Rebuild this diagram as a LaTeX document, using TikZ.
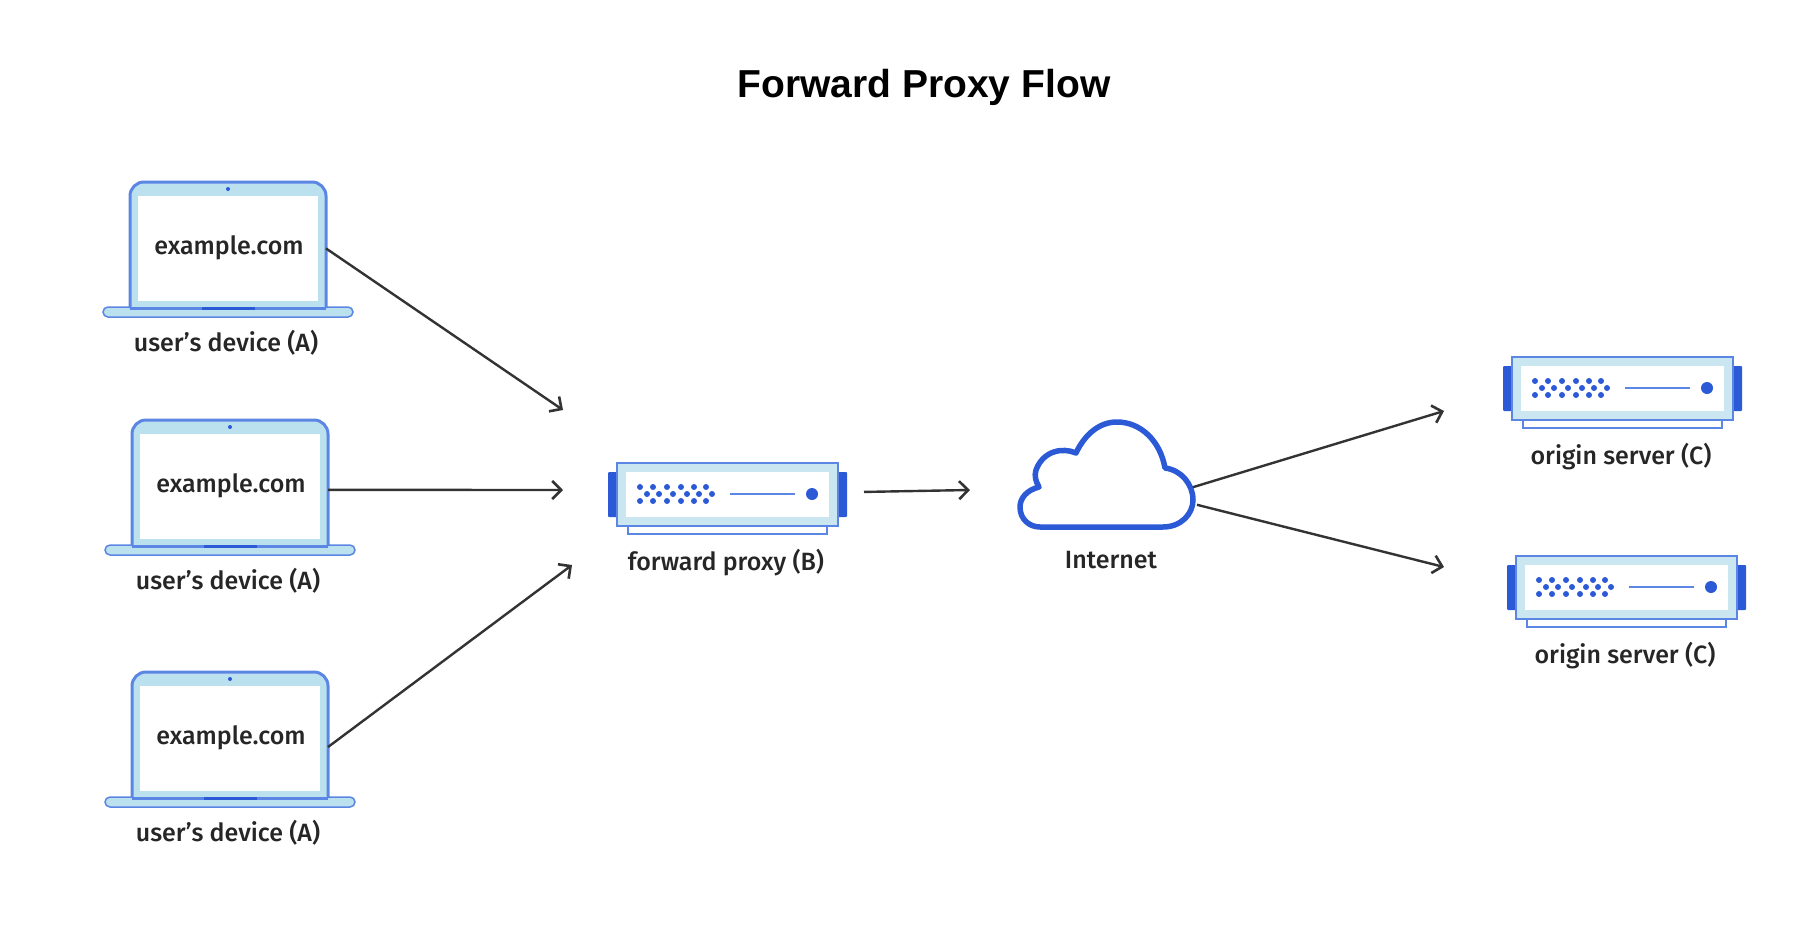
\documentclass[tikz,border=0pt]{standalone}
\usepackage{fontspec}
\setmainfont{Liberation Sans}
\newfontfamily\labfont{Fira Sans Medium}
\usetikzlibrary{arrows.meta,calc}
\definecolor{bl}{HTML}{2C5AD6}
\definecolor{edgebl}{HTML}{5C86E4}
\definecolor{lite}{HTML}{BBE0EE}
\definecolor{inkc}{HTML}{333333}
\tikzset{
  x=1pt,y=-1pt,
  conn/.style={draw=inkc,line width=2.4pt,-{Straight Barb[length=9pt,width=18pt,line width=2.6pt]}},
  lab/.style={font=\labfont\fontsize{25}{28}\selectfont,text=black!85,inner sep=0pt},
  ghost/.style={inner sep=0pt,outer sep=0pt,minimum width=#1},
}
\newcommand{\laptop}[3]{%
\begin{scope}[shift={(#2,#3)}]
  \fill[lite,draw=edgebl,line width=1.5pt,rounded corners=5pt] (103,307) rectangle (353,317);
  \draw[draw=edgebl,line width=3pt,fill=lite,rounded corners=14pt] (130,308) -- (130,182) -- (326,182) -- (326,308);
  \draw[edgebl,line width=3pt] (130,308) -- (326,308);
  \fill[white] (138,196) rectangle (318,301);
  \fill[bl] (202,307) rectangle (255,310);
  \fill[bl] (228,189) circle (2pt);
  \node[ghost=196pt,minimum height=126pt] (#1) at (228,245) {};
  \node[lab] (#1text) at (229,247.5) {example.com};
  \node[lab] (#1label) at (226,343) {user’s device (A)};
\end{scope}}
\newcommand{\serverbox}[4]{%
\begin{scope}[shift={(#2,#3)}]
  \fill[bl,rounded corners=1pt] (608,471) rectangle (620,516);
  \fill[bl,rounded corners=1pt] (835,471) rectangle (847,516);
  \draw[edgebl,line width=2pt,fill=white] (628,525) rectangle (827,533);
  \draw[edgebl,line width=2.5pt,fill=lite!80!white] (617,462) rectangle (838,525);
  \fill[white] (626,471) rectangle (829,516);
  \foreach \d in {640,653,667,681,694,706} {\fill[bl] (\d,486) circle (3pt); \fill[bl] (\d,500) circle (3pt);}
  \foreach \d in {647,659,673,687,699,712} {\fill[bl] (\d,493) circle (3pt);}
  \draw[edgebl,line width=2.5pt] (730,493) -- (795,493);
  \fill[bl] (812,493) circle (6pt);
  \node[ghost=239pt,minimum height=71pt] (#1) at (727.5,497.5) {};
  \node[lab] (#1label) at (726,562) {#4};
\end{scope}}
\begin{document}
\begin{tikzpicture}
\useasboundingbox (0,0) rectangle (1816,940);
\fill[white] (0,0) rectangle (1816,940);
\node[font=\bfseries\fontsize{39}{44}\selectfont,inner sep=0pt] (title) at (924,87) {Forward Proxy Flow};
\laptop{lapa}{0}{0}
\laptop{lapb}{2}{238}
\laptop{lapc}{2}{490}
\serverbox{proxy}{0}{1}{forward proxy (B)}
\serverbox{srva}{895}{-105}{origin server (C)}
\serverbox{srvb}{899}{94}{origin server (C)}
% cloud
\draw[bl,line width=5.5pt,line join=round,fill=white]
  (1040,527) -- (1163,527)
  .. controls (1181,527) and (1193,514) .. (1193,500)
  .. controls (1193,484) and (1181,470) .. (1165,468)
  .. controls (1160,440) and (1140,422) .. (1117,422)
  .. controls (1098,422) and (1084,436) .. (1076,453)
  .. controls (1062,447) and (1043,451) .. (1036,470)
  .. controls (1034,476) and (1036,482) .. (1039,487)
  .. controls (1027,490) and (1020,498) .. (1020,507)
  .. controls (1020,519) and (1029,527) .. (1040,527) -- cycle;
\node[ghost=173pt,minimum height=105pt] (cloud) at (1106.5,475) {};
\node[lab] (cloudlabel) at (1111,560) {Internet};
% free ends
\coordinate (ina) at (563,410);
\coordinate (inb) at (563,490);
\coordinate (inc) at (572,565);
\coordinate (cloudin) at (970,490);
\coordinate (outa) at (1444,411);
\coordinate (outb) at (1444,567);
% connectors
\draw[conn] (lapa.-2) -- (ina);
\draw[conn] (lapb.-4.6) -- (inb);
\draw[conn] (lapc.-7) -- (inc);
\draw[conn,shorten <=17pt] (proxy.3.4) -- (cloudin);
\draw[conn] (cloud.-8.6) -- (outa);
\draw[conn] ([xshift=4pt]cloud.-19) -- (outb);
\end{tikzpicture}
\end{document}
